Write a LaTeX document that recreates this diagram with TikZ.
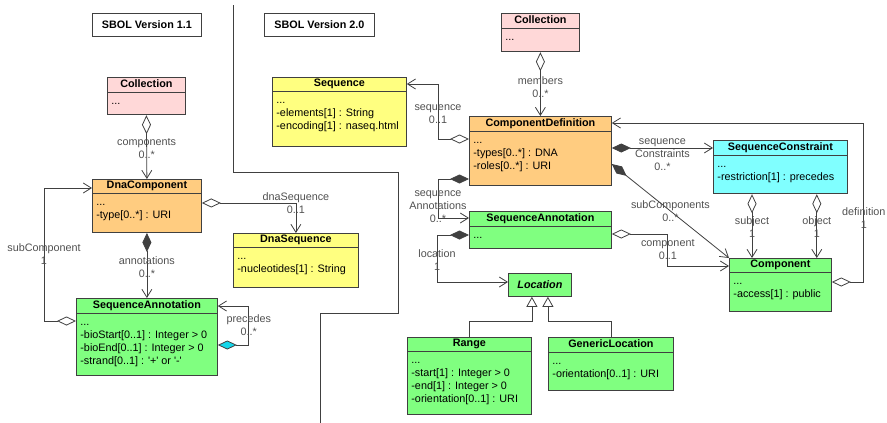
\documentclass[tikz,border=0pt]{standalone}
\usepackage{fontspec}
\setmainfont{Liberation Sans}
\usetikzlibrary{arrows.meta,shapes.multipart,calc}

\definecolor{pinkcls}{RGB}{255,216,216}
\definecolor{orangecls}{RGB}{255,204,128}
\definecolor{yellowcls}{RGB}{255,255,128}
\definecolor{greencls}{RGB}{128,255,128}
\definecolor{cyancls}{RGB}{128,255,255}
\definecolor{cyandiamond}{RGB}{20,215,235}
\definecolor{umlline}{RGB}{64,64,64}
\definecolor{umllabel}{RGB}{80,80,80}

\newcommand\clsname[1]{\textbf{#1}\rule[-3pt]{0pt}{10pt}}
\newcommand\clsattr[2]{\vbox to #1{\vskip1pt\hbox{\begin{tabular}[t]{@{}l@{}}#2\end{tabular}}\vfil}}

\begin{document}
\begin{tikzpicture}[x=1pt,y=-1pt]
\tikzset{
  umlfont/.style={font=\fontsize{10.8}{13}\selectfont},
  cls/.style={umlfont, rectangle split, rectangle split parts=2,
    rectangle split part align={center,left}, draw=umlline, line width=0.8pt,
    inner xsep=4pt, inner ysep=1.5pt, anchor=north west},
  version/.style={font=\fontsize{10.8}{13}\selectfont\bfseries, draw=umlline,
    line width=0.8pt, minimum height=23pt, anchor=north west},
  lbl/.style={umlfont, text=umllabel, align=center, inner sep=0pt},
  link/.style={draw=umlline, line width=0.8pt},
  aggr/.style={link, {Diamond[open,length=19pt,width=9pt]}-{Straight Barb[length=8pt,width=10pt]}},
  compo/.style={link, {Diamond[length=19pt,width=9pt]}-{Straight Barb[length=8pt,width=10pt]}},
  inherit/.style={link, -{Triangle[open,length=10pt,width=11pt]}}
}
\useasboundingbox (0,0) rectangle (887,423);

\draw[link] (233,5) |- (398,172) |- (320,313) -- (320,423);

\node[version, minimum width=109pt] (ver1) at (92,13) {SBOL Version 1.1};
\node[version, minimum width=110pt] (ver2) at (264,13) {SBOL Version 2.0};

% version 1.1
\node[cls, fill=pinkcls, minimum width=78pt] (colA) at (107,77)
  {\clsname{Collection}\nodepart{two}\clsattr{19pt}{...}};
\node[cls, fill=orangecls, minimum width=109pt] (dnacomp) at (92,179)
  {\clsname{DnaComponent}\nodepart{two}\clsattr{35pt}{...\\-type[0..*] : URI}};
\node[cls, fill=yellowcls, minimum width=125pt] (dnaseq) at (233,233)
  {\clsname{DnaSequence}\nodepart{two}\clsattr{36pt}{...\\-nucleotides[1] : String}};
\node[cls, fill=greencls, minimum width=141pt] (saA) at (76,298)
  {\clsname{SequenceAnnotation}\nodepart{two}\clsattr{59pt}{...\\-bioStart[0..1] : Integer > 0\\-bioEnd[0..1] : Integer > 0\\-strand[0..1] : \textquotesingle+\textquotesingle{} or \textquotesingle-\textquotesingle}};

\draw[aggr] (colA.south) -- node[lbl, pos=0.52] {components\\0..*} (dnacomp.north);
\draw[aggr] ([yshift=3pt]dnacomp.east) -| node[lbl, pos=0.5] {dnaSequence\\0..1} (dnaseq.north);
\draw[compo] (dnacomp.south) -- node[lbl, pos=0.53] {annotations\\0..*} (saA.north);
\draw[aggr] ($(saA.north west)+(0,23)$) -- ++(-32,0) |- node[lbl, pos=0.25] {subComponent\\1} ($(dnacomp.north west)+(0,9)$);
\draw[link, {Diamond[length=19pt,width=9pt,fill=cyandiamond]}-{Straight Barb[length=8pt,width=10pt]}]
  ($(saA.north east)+(0,47)$) -- ++(31,0) |- node[lbl, pos=0.25] {precedes\\0..*} ($(saA.north east)+(0,8)$);

% version 2.0
\node[cls, fill=pinkcls, minimum width=78pt] (colB) at (501,13)
  {\clsname{Collection}\nodepart{two}\clsattr{20pt}{...}};
\node[cls, fill=yellowcls, minimum width=134pt] (seq) at (272,77)
  {\clsname{Sequence}\nodepart{two}\clsattr{51pt}{...\\-elements[1] : String\\-encoding[1] : naseq.html}};
\node[cls, fill=orangecls, minimum width=142pt] (compdef) at (469,116)
  {\clsname{ComponentDefinition}\nodepart{two}\clsattr{51pt}{...\\-types[0..*] : DNA\\-roles[0..*] : URI}};
\node[cls, fill=greencls, minimum width=142pt] (saB) at (469,211)
  {\clsname{SequenceAnnotation}\nodepart{two}\clsattr{19pt}{...}};
\node[umlfont, draw=umlline, line width=0.8pt, fill=greencls, anchor=north west,
  minimum width=63pt, minimum height=23pt] (loc) at (508,273) {\textbf{\textit{Location}}};
\node[cls, fill=greencls, minimum width=124pt] (rng) at (407,337)
  {\clsname{Range}\nodepart{two}\clsattr{59pt}{...\\-start[1] : Integer > 0\\-end[1] : Integer > 0\\-orientation[0..1] : URI}};
\node[cls, fill=greencls, minimum width=125pt] (genloc) at (548,337)
  {\clsname{GenericLocation}\nodepart{two}\clsattr{35pt}{...\\-orientation[0..1] : URI}};
\node[cls, fill=cyancls, minimum width=134pt] (seqcon) at (713,140)
  {\clsname{SequenceConstraint}\nodepart{two}\clsattr{35pt}{...\\-restriction[1] : precedes}};
\node[cls, fill=greencls, minimum width=102pt] (comp) at (729,258)
  {\clsname{Component}\nodepart{two}\clsattr{35pt}{...\\-access[1] : public}};

\draw[aggr] (colB.south) -- node[lbl, pos=0.54] {members\\0..*} (compdef.north);
\draw[aggr] ($(compdef.north west)+(0,23)$) -- ++(-31,0) |- node[lbl, pos=0.23] {sequence\\0..1} ($(seq.north east)+(0,7)$);
\draw[compo] ($(compdef.north west)+(0,63)$) -- ++(-31,0) |- node[lbl, pos=0.35] {sequence\\Annotations\\0..*} ($(saB.north west)+(0,7)$);
\draw[compo] ($(saB.north west)+(0,24)$) -- ++(-32,0) |- node[lbl, pos=0.27] {location\\1} ($(loc.north west)+(0,9)$);
\draw[inherit] (rng.north) -- ++(0,-16) -| ([xshift=-8pt]loc.south);
\draw[inherit] (genloc.north) -- ++(0,-16) -| ([xshift=8pt]loc.south);
\draw[compo] ($(compdef.north east)+(0,32)$) -- node[lbl, pos=0.5, yshift=-7pt] {sequence\\Constraints\\0..*} ($(seqcon.north west)+(0,8)$);
\draw[compo] ($(compdef.north east)+(0,48)$) -- node[lbl, pos=0.5] {subComponents\\0..*} (comp.north west);
\draw[aggr] ($(saB.north east)+(0,23)$) -- ++(56,0) |- node[lbl, pos=0.25] {component\\0..1} ($(comp.north west)+(0,8)$);
\draw[aggr] ($(seqcon.south west)+(39,0)$) -- node[lbl, pos=0.52] {subject\\1} ($(comp.north west)+(23,0)$);
\draw[aggr] ($(seqcon.south east)+(-31,0)$) -- node[lbl, pos=0.52] {object\\1} ($(comp.north east)+(-15,0)$);
\draw[aggr] ($(comp.north east)+(0,24)$) -- ++(32,0) |- node[lbl, pos=0.2] {definition\\1} ($(compdef.north east)+(0,7)$);
\end{tikzpicture}
\end{document}
